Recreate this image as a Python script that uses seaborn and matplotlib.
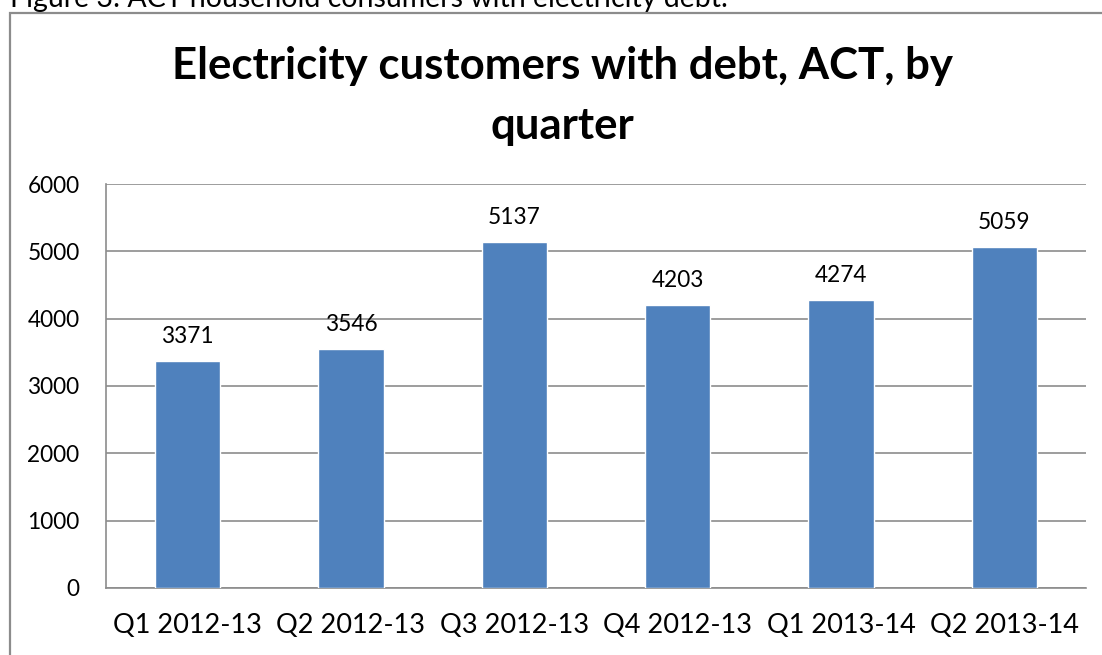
import matplotlib
matplotlib.use("Agg")
import matplotlib.pyplot as plt
import seaborn as sns
import pandas as pd
from matplotlib.patches import Rectangle

quarters = ["Q1 2012-13", "Q2 2012-13", "Q3 2012-13", "Q4 2012-13", "Q1 2013-14", "Q2 2013-14"]
customers = [3371, 3546, 5137, 4203, 4274, 5059]
y_ticks = [0, 1000, 2000, 3000, 4000, 5000, 6000]

title = "Electricity customers with debt, ACT, by\nquarter"
caption = "Figure 3: ACT household consumers with electricity debt."

sns.set_theme(style="white")
plt.rcParams["font.family"] = ["Lato", "DejaVu Sans"]

W, H = 1102, 655
fig = plt.figure(figsize=(W / 100, H / 100), dpi=100)
fig.patch.set_facecolor("white")

# chart frame (runs off the right and bottom edges)
fig.patches.append(Rectangle((10 / W, -0.1), 1.2, (H - 13) / H + 0.1,
                             transform=fig.transFigure, fill=False,
                             edgecolor="#8c8c8c", linewidth=1.6, zorder=0))

# caption line sitting just above the frame
fig.text(10 / W, (H - 7) / H, caption, fontsize=20.5, ha="left", va="baseline",
         color="black")

ax = fig.add_axes([106 / W, (H - 588) / H, (1086 - 106) / W, (588 - 184) / H])

df = pd.DataFrame({"quarter": quarters, "customers": customers})
sns.barplot(data=df, x="quarter", y="customers", color="#4F81BD", width=0.4,
            saturation=1, ax=ax, zorder=3)

ax.set_ylim(0, 6000)
ax.set_yticks(y_ticks)
ax.set_yticklabels([str(t) for t in y_ticks])
ax.set_xlabel("")
ax.set_ylabel("")
ax.yaxis.grid(True, color="#8c8c8c", linewidth=1.2, zorder=0)
ax.set_axisbelow(True)

for side in ["top", "right"]:
    ax.spines[side].set_visible(False)
for side in ["left", "bottom"]:
    ax.spines[side].set_color("#8c8c8c")
    ax.spines[side].set_linewidth(1.2)

ax.tick_params(axis="y", length=0, pad=19, labelsize=16.3, labelcolor="black")
ax.tick_params(axis="x", length=0, pad=18, labelsize=19.5, labelcolor="black")

for c in ax.containers:
    ax.bar_label(c, labels=[str(v) for v in customers], padding=10,
                 fontsize=16.3, color="black")

fig.text(562 / W, (H - 96) / H, title, ha="center", va="center",
         fontsize=31.5, fontweight="bold", linespacing=1.6, color="black")

fig.savefig("out.png", dpi=100, facecolor="white")
